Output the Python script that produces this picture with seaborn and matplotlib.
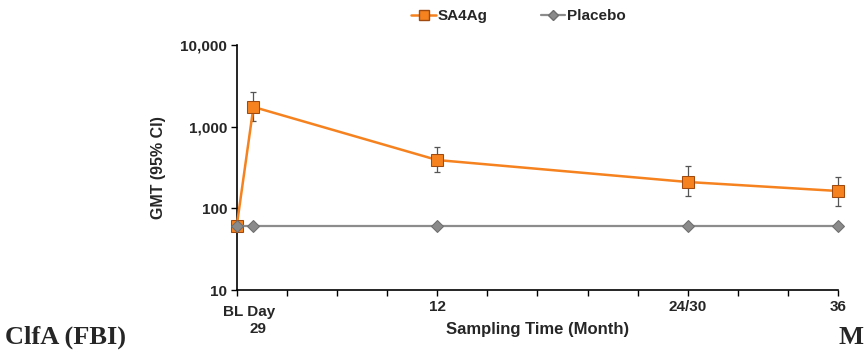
import matplotlib
matplotlib.use("Agg")
import matplotlib.pyplot as plt
import seaborn as sns
import pandas as pd
import numpy as np
from matplotlib.lines import Line2D

# Data
months_sa = [0, 1, 12, 27, 36]
gmt_sa = [61, 1740, 390, 210, 163]
ci_low_sa = [61, 1170, 277, 142, 107]
ci_high_sa = [61, 2630, 560, 330, 240]
months_pl = [0, 1, 12, 27, 36]
gmt_pl = [61, 61, 61, 61, 61]
tick_pos = [0, 3, 6, 9, 12, 15, 18, 21, 24, 27, 30, 33, 36]
tick_labels = ["", "", "", "", "12", "", "", "", "", "24/30", "", "", "36"]
ytick_vals = [10, 100, 1000, 10000]
ytick_labels = ["10", "100", "1,000", "10,000"]

sns.set_theme(style="white")
plt.rcParams['font.family'] = ['Liberation Sans', 'DejaVu Sans']

df_sa = pd.DataFrame({"month": months_sa, "gmt": gmt_sa, "group": "SA4Ag"})
df_pl = pd.DataFrame({"month": months_pl, "gmt": gmt_pl, "group": "Placebo"})

fig = plt.figure(figsize=(8.64, 3.59), dpi=100)
ax = fig.add_axes([0.274, 0.192, 0.696, 0.683])

orange = "#F5821F"
grey = "#8C8C8C"

sns.lineplot(data=df_sa, x="month", y="gmt", ax=ax, color=orange, lw=1.8,
             marker="s", markersize=8, markerfacecolor=orange,
             markeredgecolor="#A04A10", clip_on=False, zorder=4, legend=False)
sns.lineplot(data=df_pl, x="month", y="gmt", ax=ax, color=grey, lw=1.6,
             marker="D", markersize=6, markerfacecolor="#8A8A8A",
             markeredgecolor="#6E6E6E", clip_on=False, zorder=5, legend=False)

yerr = [np.array(gmt_sa) - np.array(ci_low_sa), np.array(ci_high_sa) - np.array(gmt_sa)]
ax.errorbar(months_sa, gmt_sa, yerr=yerr, fmt="none", ecolor="#555555",
            elinewidth=0.9, capsize=2.5, capthick=0.9, zorder=2, clip_on=False)

ax.set_yscale("log")
ax.set_ylim(10, 10000)
ax.set_xlim(0, 36)
ax.set_yticks(ytick_vals)
ax.set_yticklabels(ytick_labels, fontweight="bold", fontsize=11)
ax.yaxis.set_minor_locator(matplotlib.ticker.NullLocator())
ax.set_xticks(tick_pos)
ax.set_xticklabels(tick_labels, fontweight="bold", fontsize=11)
ax.tick_params(axis="both", which="major", direction="out", length=4, width=1,
               color="black", bottom=True, left=True, pad=3)
for s in ["top", "right"]:
    ax.spines[s].set_visible(False)
for s in ["left", "bottom"]:
    ax.spines[s].set_color("black")
    ax.spines[s].set_linewidth(1.2)

ax.text(-0.8, -0.06, "BL Day", transform=ax.get_xaxis_transform(), ha="left",
        va="top", fontweight="bold", fontsize=11)
ax.text(1.3, -0.13, "29", transform=ax.get_xaxis_transform(), ha="center",
        va="top", fontweight="bold", fontsize=11)

ax.set_xlabel("Sampling Time (Month)", fontweight="bold", fontsize=12, labelpad=6)
ax.set_ylabel("GMT (95% CI)", fontweight="bold", fontsize=11.5, labelpad=10)

h_sa = Line2D([], [], color=orange, lw=1.8, marker="s", markersize=7,
              markerfacecolor=orange, markeredgecolor="#A04A10")
h_pl = Line2D([], [], color=grey, lw=1.6, marker="D", markersize=5,
              markerfacecolor="#8A8A8A", markeredgecolor="#6E6E6E")
fig.legend([h_sa, h_pl], ["SA4Ag", "Placebo"],
           loc="center", bbox_to_anchor=(0.6, 0.955), ncol=2, frameon=False,
           handlelength=1.6, handletextpad=0.1, columnspacing=3.5,
           prop={"weight": "bold", "size": 11})

fig.text(0.006, 0.06, "ClfA (FBI)", fontsize=19, fontweight="bold",
         family=["Liberation Serif", "DejaVu Serif"], ha="left", va="center")
fig.text(0.999, 0.06, "M", fontsize=19, fontweight="bold",
         family=["Liberation Serif", "DejaVu Serif"], ha="right", va="center")

fig.savefig("out.png", dpi=100)
